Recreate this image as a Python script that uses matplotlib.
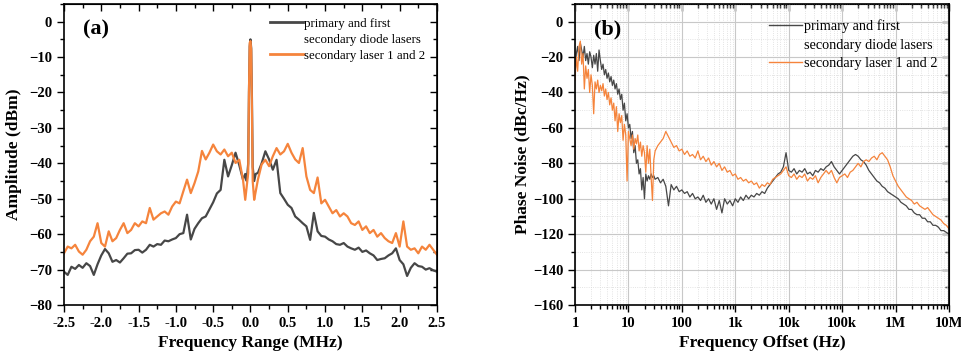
import numpy as np
import matplotlib
matplotlib.use("Agg")
import matplotlib.pyplot as plt
from matplotlib.lines import Line2D
from matplotlib.ticker import MultipleLocator, FixedLocator, LogLocator, NullFormatter

plt.rcParams['font.family'] = ['Liberation Serif', 'DejaVu Serif']

# ---- panel (a): beat-note spectra ----
offset_left = np.linspace(-2.5, -0.1, 49)
offset_center = [-0.07, -0.05, -0.03, -0.02, -0.01, 0.0, 0.01, 0.02, 0.03, 0.05, 0.07]
offset_right = np.linspace(0.1, 2.5, 49)
freq_mhz = np.concatenate([offset_left, offset_center, offset_right])

amp_primary = [
    -70.6, -71.5, -69.2, -69.8, -68.7, -69.5, -68.2, -69.0, -71.5, -68.5,
    -66.0, -64.2, -65.4, -67.8, -67.3, -68.0, -66.8, -65.5, -65.4, -64.5,
    -64.4, -65.2, -64.4, -63.0, -63.5, -62.8, -63.0, -61.8, -62.0, -61.5,
    -61.1, -60.0, -59.7, -54.5, -61.5, -58.5, -56.9, -55.5, -55.0, -53.0,
    -51.0, -48.5, -47.5, -39.0, -43.7, -40.5, -37.0, -40.5, -44.6,
    -43.0, -45.0, -40.0, -20.0, -7.0, -5.0, -7.5, -22.0, -41.0, -45.0, -43.0,
    -42.7, -40.0, -36.6, -38.9, -41.8, -39.0, -48.4, -50.0, -51.7, -52.6,
    -55.0, -55.9, -56.9, -57.8, -61.6, -54.0, -59.2, -60.5, -60.7, -61.5,
    -62.0, -62.8, -63.0, -62.5, -63.5, -64.0, -64.4, -63.8, -65.0, -64.6,
    -65.4, -66.0, -67.3, -67.0, -66.8, -66.0, -65.4, -64.0, -67.3, -68.5,
    -71.8, -69.5, -68.2, -69.0, -69.2, -70.0, -69.6, -70.2, -70.6,
]
amp_secondary = [
    -65.4, -63.5, -64.0, -63.0, -64.9, -65.8, -64.4, -62.0, -60.7, -56.9,
    -62.5, -63.5, -59.2, -62.0, -61.1, -58.8, -56.9, -59.7, -58.8, -56.9,
    -57.8, -56.4, -56.9, -52.6, -55.9, -55.0, -54.1, -53.6, -54.5, -52.2,
    -50.8, -51.3, -47.9, -44.6, -48.4, -45.6, -42.3, -36.5, -38.9, -37.0,
    -34.7, -36.6, -37.5, -36.1, -38.0, -37.0, -39.9, -39.0, -44.6,
    -50.3, -46.5, -42.7, -20.0, -6.0, -5.5, -8.0, -25.0, -45.0, -50.3, -48.0,
    -44.6, -40.3, -39.0, -40.8, -38.0, -35.7, -37.5, -36.6, -34.5, -37.0,
    -38.9, -39.9, -35.7, -43.7, -47.5, -48.4, -44.0, -51.3, -50.3, -52.2,
    -54.1, -53.2, -55.0, -54.1, -55.0, -56.9, -57.4, -56.4, -58.8, -57.8,
    -59.7, -58.8, -60.7, -59.7, -61.1, -62.0, -62.5, -59.7, -63.5, -56.4,
    -63.5, -64.4, -64.0, -65.4, -63.5, -64.4, -63.0, -64.4, -65.8,
]

# ---- panel (b): phase noise ----
log_f = np.concatenate([np.linspace(0.0, 1.5, 61), np.linspace(1.55, 7.0, 110)])
freq_hz = 10 ** log_f

pn_primary = [
    -30, -18, -14, -22, -12, -16, -20, -14, -22, -18, -24, -17,
    -20, -26, -19, -24, -18, -28, -16, -22, -27, -24, -30, -27,
    -32, -29, -34, -31, -36, -33, -38, -35, -41, -38, -44, -41,
    -50, -46, -56, -52, -60, -58, -66, -62, -74, -70, -80, -78,
    -86, -83, -95, -88, -100, -86, -90, -87, -89, -86, -88, -87, -89,
    -88, -91, -89, -93, -104, -92, -95, -93, -96,
    -95, -97, -96, -99, -97, -100, -99, -101, -98, -102,
    -100, -103, -100, -106, -101, -108, -100, -103, -101, -104,
    -100, -102, -99, -101, -98, -100, -98, -99, -97, -98,
    -96, -97, -94, -92, -90, -88, -86, -85, -82, -74,
    -84, -85, -83, -86, -84, -85, -83, -86, -85, -87,
    -84, -85, -83, -84, -82, -81, -79, -82, -84, -86,
    -84, -82, -80, -78, -76, -75, -76, -78, -79, -81,
    -84, -86, -88, -90, -91, -93, -94, -96, -97, -98,
    -99, -100, -102, -103, -104, -106, -106, -108, -109, -109,
    -111, -111, -113, -113, -115, -115, -116, -118, -118, -119,
    -120,
]
pn_secondary = [
    -33, -20, -28, -14, -11, -24, -18, -38, -25, -32, -27, -40,
    -30, -36, -52, -34, -38, -33, -40, -36, -39, -35, -42, -38,
    -44, -40, -47, -43, -50, -46, -56, -48, -62, -52, -57, -53,
    -67, -58, -64, -90, -62, -66, -70, -64, -72, -66, -69, -64,
    -73, -68, -76, -70, -74, -85, -70, -80, -72, -88, -101, -78, -73,
    -70, -68, -66, -62, -65, -68, -71, -70, -73,
    -72, -75, -73, -76, -75, -77, -73, -78, -76, -79,
    -77, -81, -79, -82, -80, -84, -82, -85, -84, -87,
    -86, -89, -88, -90, -89, -91, -90, -92, -91, -94,
    -92, -93, -91, -92, -89, -88, -87, -86, -84, -82,
    -87, -88, -86, -89, -87, -88, -86, -90, -88, -89,
    -87, -91, -88, -86, -84, -86, -84, -88, -91, -88,
    -87, -86, -88, -85, -84, -82, -80, -82, -79, -78,
    -79, -77, -76, -78, -75, -74, -76, -78, -82, -87,
    -90, -93, -95, -97, -99, -100, -101, -103, -102, -104,
    -105, -106, -105, -107, -109, -110, -111, -112, -114, -115,
    -117,
]

labels = ["primary and first", "secondary diode lasers", "secondary laser 1 and 2"]
c_dark = "#474747"
c_orange = "#f5843c"

fig = plt.figure(figsize=(9.62, 3.58), dpi=100)
ax1 = fig.add_axes([0.0665, 0.148, 0.3877, 0.841])
ax2 = fig.add_axes([0.5977, 0.148, 0.3888, 0.841])

bold = dict(fontweight="bold")

# panel (a)
l1, = ax1.plot(freq_mhz, amp_primary, color=c_dark, lw=1.6)
l2, = ax1.plot(freq_mhz, amp_secondary, color=c_orange, lw=1.6)
ax1.set_xlim(-2.5, 2.5)
ax1.set_ylim(-80, 5)
ax1.xaxis.set_major_locator(MultipleLocator(0.5))
ax1.xaxis.set_minor_locator(MultipleLocator(0.25))
ax1.yaxis.set_major_locator(MultipleLocator(10))
ax1.yaxis.set_minor_locator(MultipleLocator(5))
ax1.xaxis.set_major_formatter(plt.FormatStrFormatter("%.1f"))
ax1.set_xlabel("Frequency Range (MHz)", fontsize=12.5, labelpad=4, **bold)
ax1.set_ylabel("Amplitude (dBm)", fontsize=12.5, labelpad=5, **bold)
ax1.text(0.05, 0.915, "(a)", transform=ax1.transAxes, fontsize=16, va="center", **bold)

# panel (b)
l3, = ax2.semilogx(freq_hz, pn_primary, color=c_dark, lw=0.9)
l4, = ax2.semilogx(freq_hz, pn_secondary, color=c_orange, lw=0.9)
ax2.set_xlim(1, 1e7)
ax2.set_ylim(-160, 10)
ax2.xaxis.set_major_locator(FixedLocator([1, 10, 100, 1e3, 1e4, 1e5, 1e6, 1e7]))
ax2.xaxis.set_minor_locator(LogLocator(base=10, subs=np.arange(2, 10), numticks=20))
ax2.xaxis.set_minor_formatter(NullFormatter())
ax2.set_xticklabels(["1", "10", "100", "1k", "10k", "100k", "1M", "10M"])
ax2.yaxis.set_major_locator(MultipleLocator(20))
ax2.yaxis.set_minor_locator(MultipleLocator(10))
ax2.grid(True, which="major", color="#c8c8c8", lw=0.8)
ax2.grid(True, which="minor", color="#dadada", lw=0.6, ls=":")
ax2.set_axisbelow(True)
ax2.set_xlabel("Frequency Offset (Hz)", fontsize=12.5, labelpad=4, **bold)
ax2.set_ylabel("Phase Noise (dBc/Hz)", fontsize=12.5, labelpad=2, **bold)
ax2.text(0.05, 0.915, "(b)", transform=ax2.transAxes, fontsize=16, va="center", **bold)

blank = Line2D([], [], color="none")
legend_cfg = [
    (ax1, l1, l2, 2.0, 9.3, 2.5, 0.32, (1 - 12 / 373, 0.955)),
    (ax2, l3, l4, 1.0, 10.3, 2.3, 0.4, (1 - 12 / 374, 0.95)),
]
for ax, h1, h2, lw, fs, hl, ls, anchor in legend_cfg:
    for sp in ax.spines.values():
        sp.set_linewidth(1.2)
    ax.tick_params(which="both", direction="out", labelsize=10.5, width=1.0)
    ax.tick_params(which="major", length=5)
    ax.tick_params(which="minor", length=3)
    for t in ax.get_xticklabels() + ax.get_yticklabels():
        t.set_fontweight("bold")
    top = ax.secondary_xaxis("top")
    top.xaxis.set_major_locator(ax.xaxis.get_major_locator())
    top.xaxis.set_minor_locator(ax.xaxis.get_minor_locator())
    top.tick_params(which="both", direction="in", labeltop=False, width=1.0)
    top.tick_params(which="major", length=5)
    top.tick_params(which="minor", length=3)
    right = ax.secondary_yaxis("right")
    right.yaxis.set_major_locator(ax.yaxis.get_major_locator())
    right.yaxis.set_minor_locator(ax.yaxis.get_minor_locator())
    right.tick_params(which="both", direction="in", labelright=False, width=1.0)
    right.tick_params(which="major", length=5)
    right.tick_params(which="minor", length=3)
    leg = ax.legend([h1, blank, h2], labels, loc="upper right",
                    bbox_to_anchor=anchor, frameon=False,
                    prop={"family": "Liberation Serif", "size": fs},
                    handlelength=hl, handletextpad=0.1, labelspacing=ls,
                    borderaxespad=0.0, borderpad=0.0)
    for ln in leg.get_lines():
        ln.set_linewidth(lw)

fig.savefig("out.png", dpi=100)
